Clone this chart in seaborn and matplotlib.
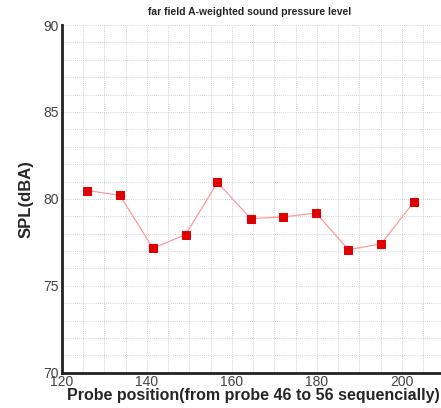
import matplotlib
matplotlib.use("Agg")
import matplotlib.pyplot as plt
import seaborn as sns
import pandas as pd
from matplotlib.ticker import MultipleLocator

# Probe positions and A-weighted far-field SPL (probes 46..56)
positions = [126.0, 133.6, 141.4, 149.1, 156.6, 164.4, 172.1, 179.8, 187.4, 195.1, 202.8]
spl_dba = [80.48, 80.21, 77.16, 77.95, 80.95, 78.87, 78.96, 79.19, 77.08, 77.41, 79.81]

df = pd.DataFrame({"pos": positions, "spl": spl_dba})

sns.set_style("white")
plt.rcParams["font.family"] = ["Liberation Sans", "DejaVu Sans"]

fig = plt.figure(figsize=(4.41, 4.08), dpi=100)
ax = fig.add_axes([0.1406, 0.0865, 0.867, 0.852])

sns.lineplot(data=df, x="pos", y="spl", ax=ax, color="#ff9a9a", linewidth=0.9,
             marker="s", markersize=5.5, markerfacecolor="#e00000",
             markeredgecolor="#e00000", zorder=3)

ax.set_xlim(120, 210)
ax.set_ylim(70, 90)
ax.xaxis.set_major_locator(MultipleLocator(20))
ax.xaxis.set_minor_locator(MultipleLocator(5))
ax.yaxis.set_major_locator(MultipleLocator(5))
ax.yaxis.set_minor_locator(MultipleLocator(1))

ax.grid(which="both", color="#c4c4c4", linestyle=(0, (1, 1.5)), linewidth=0.6)
ax.set_axisbelow(True)

for side in ("top", "right"):
    ax.spines[side].set_visible(False)
for side in ("left", "bottom"):
    ax.spines[side].set_linewidth(2)
    ax.spines[side].set_color("#222222")

ax.tick_params(which="major", direction="in", length=8, width=1.6, color="#222222",
               labelsize=10, labelcolor="#444444", pad=2)
ax.tick_params(which="minor", direction="in", length=3.5, width=1, color="#222222")
ax.tick_params(axis="y", which="minor", length=0)

ax.set_xlabel("Probe position(from probe 46 to 56 sequencially)", fontsize=11.5,
              fontweight="bold", labelpad=-1)
ax.xaxis.set_label_coords(0.5, -0.045)
ax.set_ylabel("SPL(dBA)", fontsize=12, fontweight="bold")
ax.yaxis.set_label_coords(-0.075, 0.5)
ax.set_title("far field A-weighted sound pressure level", fontsize=7.5,
             fontweight="bold", pad=7, x=0.49)

fig.savefig("out.png", dpi=100)
